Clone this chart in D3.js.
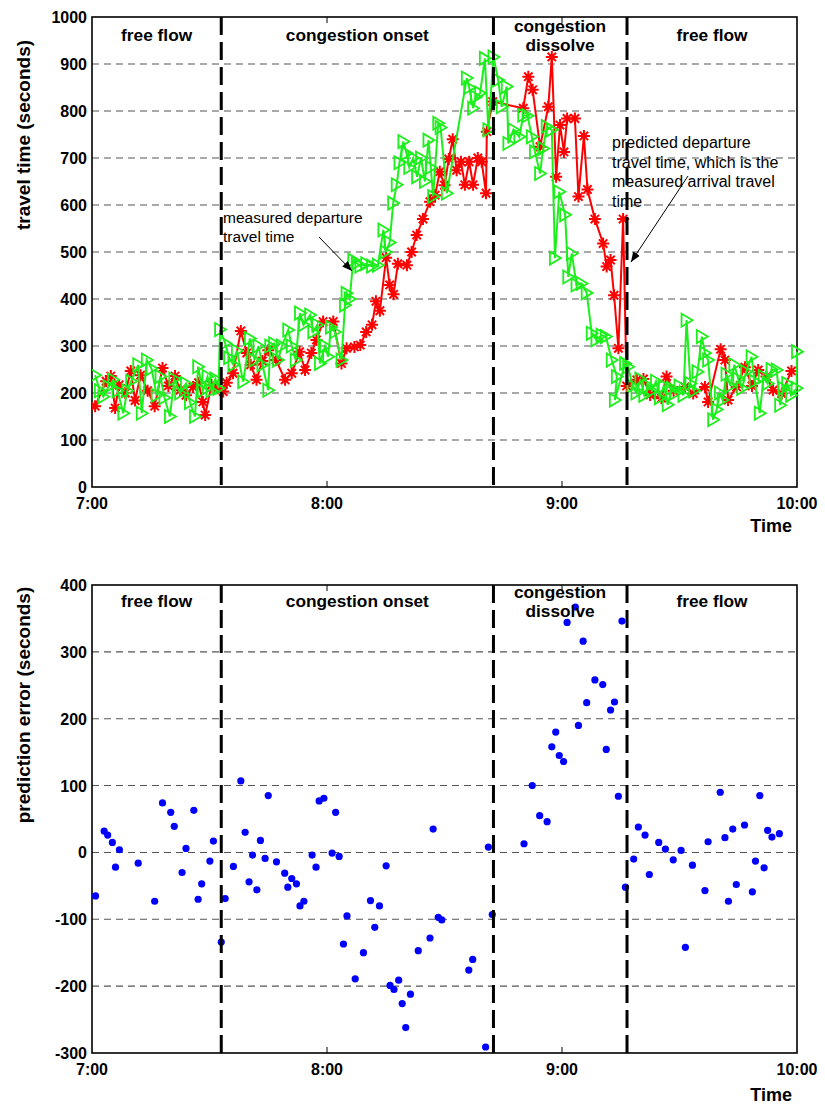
<!DOCTYPE html>
<html>
<head>
<meta charset="utf-8">
<script src="https://cdn.jsdelivr.net/npm/d3@7"></script>
<style>
  body { margin: 0; background: #fff; }
  text { font-family: "Liberation Sans", Arial, Helvetica, sans-serif; }
</style>
</head>
<body>
<svg id="chart" width="825" height="1104"></svg>
<script>
// ---- data (time in minutes after 7:00) ----
const timeTicks = [0, 60, 120, 180];
const timeTickLabels = ["7:00", "8:00", "9:00", "10:00"];
const phaseBounds = [33, 102.5, 136.6];
const phaseNames = [["free flow"], ["congestion onset"], ["congestion", "dissolve"], ["free flow"]];
const phaseCenters = [16.5, 67.75, 119.5, 158.3];

const travelTicks = [0, 100, 200, 300, 400, 500, 600, 700, 800, 900, 1000];
const errorTicks = [-300, -200, -100, 0, 100, 200, 300, 400];

// measured departure travel time (green)
const departT = [0.8,2.0,2.9,4.2,5.4,6.5,8,9,10,11.8,12.7,14,15.2,16.5,17.5,18.5,19.9,21,22.5,24,25,26.3,27.1,28.3,29.5,30.5,31.5,32.3,
  32.7,34,35,36.1,37,38.6,40.3,41.5,42.5,43.5,45,45.5,46.5,47.5,48.5,50.1,51,52,53.1,54,55.7,56.5,57.5,58.2,59.5,60.3,61,62,63.7,
  64.6,65,65.8,66.7,67.6,68.5,70,71.5,73,74.4,75,76,76.9,77.8,78.5,79.5,80.3,81,82,83,84,85,85.9,86.5,87.1,88.4,89,90.6,
  95.7,96.3,97.3,98,99.1,100.3,101.2,102.5,103.7,104.6,105.9,106.3,107.6,109.1,110.1,111.2,112.3,113.1,114.4,115.2,116.1,117.4,
  118.2,119.3,120.8,121.6,122.5,123.7,125,126.3,127.6,128.8,130.1,131.2,132.7,134,133.5,136.1,136.9,138,139,140,141,142,143,144,
  145,146,147,148,149,150,151,151.8,152.8,153.7,154.6,155.7,156.5,157.3,158.6,159.5,160.3,161,162,163,164,165,166,167,168.4,
  169.2,170.5,171.5,172.5,173.5,174.8,175.7,176.5,177.5,178.5,179.9,180];
const departV = [238,205,192,213,228,205,157,205,225,260,157,270,252,195,235,190,150,230,200,220,180,150,256,205,235,205,230,210,
  335,306,275,260,290,224,316,270,300,260,206,300,305,270,300,334,300,270,370,345,366,330,345,263,300,277,340,330,270,
  387,412,400,483,476,470,475,470,472,547,500,520,604,643,690,735,710,680,700,660,700,650,738,680,618,774,765,625,
  870,850,806,830,838,912,760,915,866,809,852,731,760,745,791,790,745,713,667,720,767,760,
  487,628,579,447,497,430,433,413,327,313,323,320,270,235,185,263,256,215,200,230,195,215,205,225,
  190,215,175,210,200,215,195,355,220,205,245,320,285,270,143,165,200,185,240,215,260,230,210,245,277,
  225,157,235,220,250,249,174,210,220,195,210,288];

// predicted departure travel time = measured arrival travel time (red)
const arriveT = [0.8,3.6,4.8,5.9,6.9,8.5,9.9,11,12.4,14.2,16,18,19.5,21.2,22.5,24,25.8,27.2,28.3,28.9,30.5,32,
  33.5,34.4,36,38,39.5,40.5,42,43.5,45,47,49.3,51,53,54.4,56,57.3,59,61.6,63.7,65,67,68.5,70,71.5,72.5,73.5,
  75.1,76,77,78.1,80.4,81.6,82.9,84.5,86.3,87.6,88.8,90,91.1,92.1,93.1,94.2,95.2,96.3,97.3,98.5,99.5,100.6,100.8,102.3,
  110.1,111.4,112.5,114.4,116.5,117.4,118.5,119.5,120.5,121.3,123.3,124.2,125.6,126.5,128.4,130.5,131.4,132.4,133.3,134.4,135.6,
  136.5,139.1,140.8,142.5,145.4,146.7,148.5,151.4,153.5,156.5,157.3,160.5,161.6,162.4,164.6,166.7,168.5,170.1,172.2,173.9,176.1,178.6];
const arriveV = [172,225,236,168,217,200,247,184,238,205,172,253,215,236,206,195,213,222,181,153,217,210,
  203,222,242,332,285,260,228,268,291,270,228,242,288,249,285,313,352,352,263,295,298,302,330,345,395,375,
  488,430,410,475,472,500,536,570,607,621,671,642,698,740,674,692,643,692,643,700,692,625,756,820,
  806,873,845,724,809,915,660,770,713,784,784,618,747,633,570,518,469,483,408,295,570,
  215,228,230,196,189,235,205,213,199,213,181,293,270,185,213,255,215,249,235,206,199,247];

// prediction error
const errT = [0.9,3.1,4,5.2,6,7,11.8,16,18,20.1,21,23,24,26,27.1,28,30.1,31,33,34,36.1,38,39.1,40.1,41,42.1,43,44.2,45,
  47.1,49.2,50,51,52.2,53.1,54.1,56.2,57.2,58,59.2,61.3,62.2,63.1,64.2,65.1,67.2,69.3,71.1,72.2,73.4,75.1,76.1,77.1,78.3,
  79.2,80.1,81.3,83.3,86.3,87.1,88.4,89.3,96.2,97.2,100.5,101.2,102.2,110.3,112.4,114.3,116.2,117.4,118.4,119.3,120.4,
  121.3,123.4,124.2,125.4,126.3,128.4,130.4,131.3,132.4,133.4,134.4,135.3,136.2,138.3,139.5,141.2,142.3,144.7,146.4,148.4,
  150.4,151.5,153.3,156.5,157.3,160.4,161.6,162.5,163.6,164.5,166.6,168.6,169.4,170.5,171.6,172.5,173.6,175.5];
const errV = [-65,32,26,15,-22,4,-16,-73,74,60,39,-30,6,63,-70,-47,-13,17,-134,-69,-21,107,30,-44,-4,-56,18,-9,85,
  -14,-31,-52,-39,-47,-80,-73,-4,-22,77,81,-1,60,-6,-137,-95,-189,-150,-72,-112,-80,-20,-199,-205,-191,
  -226,-262,-212,-147,-128,35,-97,-101,-176,-160,-291,8,-93,13,100,55,46,158,180,145,136,
  344,367,190,316,224,258,251,154,213,225,84,346,-52,-10,38,26,-33,15,5,-11,
  3,-142,-19,-57,16,90,22,-73,35,-48,41,-59,-13,85,-23,33,23,28];

// ---- layout ----
const svg = d3.select("#chart");
const x = d3.scaleLinear().domain([0, 180]).range([92, 797]);
const yTravel = d3.scaleLinear().domain([0, 1000]).range([487, 17]);
const yError = d3.scaleLinear().domain([-300, 400]).range([1053, 585]);

const GREEN = "#1cef1c";
const RED = "#ff0000";

function drawFrame(y, ticks, opts) {
  const g = svg.append("g");
  const [y0, y1] = y.range();
  // horizontal dashed grid
  g.selectAll("line.grid").data(ticks.slice(1, -1)).join("line")
    .attr("x1", x(0)).attr("x2", x(180))
    .attr("y1", d => y(d)).attr("y2", d => y(d))
    .attr("stroke", "#555").attr("stroke-width", 1.1).attr("stroke-dasharray", "7,5");
  // y tick labels
  g.selectAll("text.ytick").data(ticks).join("text")
    .attr("x", 87).attr("y", d => y(d) + 6)
    .attr("text-anchor", "end").attr("font-size", 16).attr("font-weight", "bold")
    .text(d => d);
  // x ticks (inside) and labels
  g.selectAll("line.xt").data(timeTicks.slice(1, -1)).join("line")
    .attr("x1", d => x(d)).attr("x2", d => x(d)).attr("y1", y0).attr("y2", y0 - 6)
    .attr("stroke", "#000").attr("stroke-width", 1);
  g.selectAll("line.xt2").data(timeTicks.slice(1, -1)).join("line")
    .attr("x1", d => x(d)).attr("x2", d => x(d)).attr("y1", y1).attr("y2", y1 + 6)
    .attr("stroke", "#000").attr("stroke-width", 1);
  g.selectAll("text.xtick").data(timeTicks).join("text")
    .attr("x", d => x(d)).attr("y", y0 + opts.tickDy)
    .attr("text-anchor", "middle").attr("font-size", 16).attr("font-weight", "bold")
    .text((d, i) => timeTickLabels[i]);
  g.append("text").attr("x", 792).attr("y", y0 + opts.timeDy).attr("text-anchor", "end")
    .attr("font-size", 18).attr("font-weight", "bold").text("Time");
  g.append("text")
    .attr("transform", `translate(${opts.titleX},${opts.titleY}) rotate(-90)`)
    .attr("text-anchor", "middle").attr("font-size", 19).attr("font-weight", "bold")
    .text(opts.title);
  // box
  g.append("rect").attr("x", x(0)).attr("y", y1).attr("width", x(180) - x(0)).attr("height", y0 - y1)
    .attr("fill", "none").attr("stroke", "#000").attr("stroke-width", 1.6);
  return g;
}

function drawPhases(y, labelTop) {
  const [y0, y1] = y.range();
  const g = svg.append("g");
  g.selectAll("line").data(phaseBounds).join("line")
    .attr("x1", d => x(d)).attr("x2", d => x(d)).attr("y1", y1).attr("y2", y0)
    .attr("stroke", "#000").attr("stroke-width", 3).attr("stroke-dasharray", "18,7");
  phaseNames.forEach((lines, i) => {
    const t = g.append("text").attr("text-anchor", "middle").attr("font-size", 17.3).attr("font-weight", "bold");
    const base = lines.length === 1 ? labelTop + 9 : labelTop;
    lines.forEach((s, k) => {
      t.append("tspan").attr("x", x(phaseCenters[i])).attr("y", base + k * 19).text(s);
    });
  });
}

// ---- top panel: travel times ----
drawFrame(yTravel, travelTicks, { title: "travel time (seconds)", titleX: 30, titleY: 135, tickDy: 22, timeDy: 45 });

const clipTop = svg.append("clipPath").attr("id", "clipTop").append("rect")
  .attr("x", x(0)).attr("y", 17).attr("width", x(180) - x(0) + 8).attr("height", 470);

const line = (ts, vs) => d3.line().x(i => x(ts[i])).y(i => yTravel(vs[i]))(d3.range(ts.length));

const series = svg.append("g").attr("clip-path", "url(#clipTop)");
const asterisk = "M-6,0L6,0M0,-6L0,6M-4.2,-4.2L4.2,4.2M-4.2,4.2L4.2,-4.2";
const triangle = "M-5,-6.5L6,0L-5,6.5Z";

series.append("path").attr("d", line(arriveT, arriveV))
  .attr("fill", "none").attr("stroke", RED).attr("stroke-width", 2);
series.selectAll("path.ast").data(d3.range(arriveT.length)).join("path")
  .attr("d", asterisk).attr("transform", i => `translate(${x(arriveT[i])},${yTravel(arriveV[i])})`)
  .attr("fill", "none").attr("stroke", RED).attr("stroke-width", 2);

series.append("path").attr("d", line(departT, departV))
  .attr("fill", "none").attr("stroke", GREEN).attr("stroke-width", 2);
series.selectAll("path.tri").data(d3.range(departT.length)).join("path")
  .attr("d", triangle).attr("transform", i => `translate(${x(departT[i])},${yTravel(departV[i])})`)
  .attr("fill", "none").attr("stroke", GREEN).attr("stroke-width", 1.8);

drawPhases(yTravel, 32);

// annotations
svg.append("defs").append("marker").attr("id", "arrow").attr("viewBox", "0 0 10 10")
  .attr("refX", 10).attr("refY", 5).attr("markerWidth", 10).attr("markerHeight", 10)
  .attr("markerUnits", "userSpaceOnUse").attr("orient", "auto")
  .append("path").attr("d", "M0,1L10,5L0,9Z").attr("fill", "#000");

const ann = svg.append("g").attr("font-size", 15.5);
ann.append("text").attr("x", 223).attr("y", 223).text("measured departure");
ann.append("text").attr("x", 223).attr("y", 242).text("travel time");
ann.append("line").attr("x1", 319).attr("y1", 237).attr("x2", 352).attr("y2", 271)
  .attr("stroke", "#000").attr("stroke-width", 1).attr("marker-end", "url(#arrow)");
["predicted departure", "travel time, which is the", "measured arrival travel", "time"].forEach((s, k) => {
  ann.append("text").attr("x", 612).attr("y", 148 + k * 19.5).attr("font-size", 16).text(s);
});
ann.append("line").attr("x1", 688).attr("y1", 176).attr("x2", 631).attr("y2", 262)
  .attr("stroke", "#000").attr("stroke-width", 1).attr("marker-end", "url(#arrow)");

// ---- bottom panel: prediction error ----
drawFrame(yError, errorTicks, { title: "prediction error (seconds)", titleX: 30, titleY: 705, tickDy: 22, timeDy: 48 });

svg.append("g").selectAll("circle").data(d3.range(errT.length)).join("circle")
  .attr("cx", i => x(errT[i])).attr("cy", i => yError(errV[i])).attr("r", 3.6)
  .attr("fill", "#0000ff");

drawPhases(yError, 598);
</script>
</body>
</html>
